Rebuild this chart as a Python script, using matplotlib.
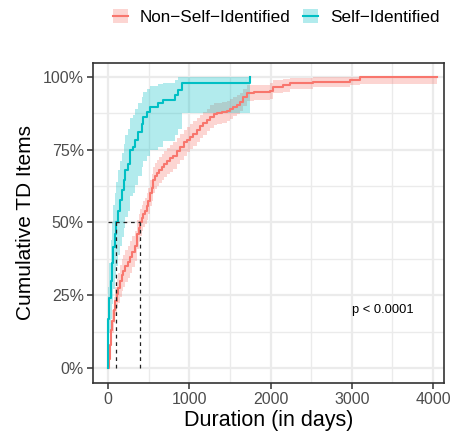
import matplotlib
matplotlib.use("Agg")
import matplotlib.pyplot as plt
from matplotlib.patches import Patch
from matplotlib.lines import Line2D
from matplotlib.ticker import FuncFormatter, MultipleLocator

plt.rcParams['font.family'] = ['Liberation Sans', 'DejaVu Sans']

# ---- data ----
series_names = ["Non\u2212Self\u2212Identified", "Self\u2212Identified"]
colors = ["#F8766D", "#00BFC4"]

t_nsi = [0, 12, 20, 33, 50, 70, 86, 110, 127, 150, 168, 190, 209, 240, 270, 300, 332, 353, 375, 394,
         415, 435, 455, 476, 497, 517, 538, 558, 580, 599, 630, 660, 690, 722, 760, 804, 845, 886,
         930, 968, 1009, 1050, 1091, 1130, 1173, 1215, 1255, 1300, 1337, 1400, 1460, 1500, 1542,
         1585, 1624, 1665, 1706, 1800, 1993, 2035, 2150, 2240, 2527, 2978, 3101, 4045]
v_nsi = [0.000, 0.030, 0.080, 0.130, 0.160, 0.200, 0.230, 0.255, 0.275, 0.300, 0.320, 0.335, 0.350,
         0.365, 0.380, 0.400, 0.420, 0.460, 0.480, 0.500, 0.515, 0.530, 0.540, 0.555, 0.575, 0.600,
         0.620, 0.645, 0.660, 0.670, 0.680, 0.690, 0.700, 0.710, 0.720, 0.730, 0.745, 0.760, 0.775,
         0.785, 0.795, 0.805, 0.818, 0.830, 0.841, 0.852, 0.864, 0.872, 0.876, 0.878, 0.882, 0.890,
         0.898, 0.905, 0.915, 0.930, 0.944, 0.948, 0.952, 0.967, 0.972, 0.978, 0.984, 0.990, 1.000, 1.000]
lo_nsi = [0.000, 0.010, 0.050, 0.095, 0.120, 0.155, 0.180, 0.205, 0.222, 0.245, 0.265, 0.280, 0.295,
          0.310, 0.325, 0.347, 0.368, 0.410, 0.432, 0.455, 0.470, 0.485, 0.495, 0.510, 0.530, 0.555,
          0.575, 0.600, 0.615, 0.625, 0.635, 0.645, 0.655, 0.665, 0.675, 0.685, 0.700, 0.715, 0.730,
          0.742, 0.752, 0.762, 0.776, 0.790, 0.801, 0.813, 0.826, 0.835, 0.840, 0.842, 0.847, 0.856,
          0.865, 0.873, 0.884, 0.901, 0.917, 0.922, 0.926, 0.944, 0.950, 0.957, 0.965, 0.972, 0.976, 0.976]
hi_nsi = [0.000, 0.050, 0.110, 0.165, 0.200, 0.245, 0.280, 0.305, 0.328, 0.355, 0.375, 0.390, 0.405,
          0.420, 0.435, 0.453, 0.472, 0.510, 0.528, 0.545, 0.560, 0.575, 0.585, 0.600, 0.620, 0.645,
          0.665, 0.690, 0.705, 0.715, 0.725, 0.735, 0.745, 0.755, 0.765, 0.775, 0.790, 0.805, 0.818,
          0.828, 0.838, 0.848, 0.860, 0.870, 0.881, 0.891, 0.902, 0.909, 0.912, 0.914, 0.917, 0.924,
          0.931, 0.937, 0.946, 0.959, 0.971, 0.974, 0.978, 0.990, 0.994, 0.998, 1.000, 1.000, 1.000, 1.000]

t_si = [0, 1, 3, 12, 33, 50, 65, 80, 95, 120, 148, 176, 197, 209, 250, 271, 310, 332, 373, 414, 435,
        476, 517, 620, 681, 825, 866, 907, 1748]
v_si = [0.00, 0.10, 0.17, 0.24, 0.30, 0.36, 0.417, 0.46, 0.50, 0.54, 0.577, 0.61, 0.646, 0.68, 0.70,
        0.749, 0.76, 0.784, 0.81, 0.84, 0.864, 0.88, 0.898, 0.91, 0.921, 0.938, 0.955, 0.978, 1.00]
lo_si = [0.00, 0.02, 0.06, 0.12, 0.17, 0.22, 0.27, 0.31, 0.35, 0.39, 0.42, 0.45, 0.48, 0.52, 0.54,
         0.59, 0.60, 0.63, 0.66, 0.69, 0.71, 0.73, 0.75, 0.76, 0.78, 0.80, 0.82, 0.875, 0.875]
hi_si = [0.00, 0.18, 0.28, 0.36, 0.44, 0.50, 0.56, 0.60, 0.64, 0.68, 0.71, 0.74, 0.77, 0.80, 0.82,
         0.86, 0.87, 0.89, 0.91, 0.93, 0.95, 0.96, 0.97, 0.975, 0.98, 0.99, 1.00, 1.00, 1.00]

median_days = [98, 394]
median_level = 0.5
pval_text = "p < 0.0001"
pval_pos = (3000, 0.2)

x_ticks = [0, 1000, 2000, 3000, 4000]
y_ticks = [0, 0.25, 0.5, 0.75, 1.0]

# ---- figure ----
fig = plt.figure(figsize=(4.51, 4.37), dpi=100)
ax = fig.add_axes([93/451, 54/437, 351/451, 320/437])

grid_c = "#EBEBEB"
ax.set_axisbelow(True)
ax.xaxis.set_minor_locator(MultipleLocator(500))
ax.yaxis.set_minor_locator(MultipleLocator(0.125))
ax.grid(which="major", color=grid_c, lw=1.6)
ax.grid(which="minor", color=grid_c, lw=1.0)

for t, v, lo, hi, c in [(t_nsi, v_nsi, lo_nsi, hi_nsi, colors[0]),
                        (t_si, v_si, lo_si, hi_si, colors[1])]:
    ax.fill_between(t, lo, hi, step="post", color=c, alpha=0.3, lw=0)
    ax.step(t, v, where="post", color=c, lw=1.5)

# median lines
ax.plot([0, max(median_days)], [median_level, median_level], color="#222222", lw=0.9, ls=(0, (3, 3)))
for md in median_days:
    ax.plot([md, md], [0, median_level], color="#222222", lw=0.9, ls=(0, (3, 3)))

ax.text(pval_pos[0], pval_pos[1], pval_text, fontsize=9.3, ha="left", va="center", color="black")

ax.set_xlim(-185, 4135)
ax.set_ylim(-0.0515, 1.048)
ax.set_xticks(x_ticks)
ax.set_yticks(y_ticks)
ax.yaxis.set_major_formatter(FuncFormatter(lambda v, p: f"{int(round(v*100))}%"))
ax.tick_params(which="major", length=4, width=1.1, color="#333333", labelsize=11.5,
               labelcolor="#4D4D4D", pad=2.5)
ax.tick_params(which="minor", length=0)
for s in ax.spines.values():
    s.set_color("#333333")
    s.set_linewidth(1.2)

ax.set_xlabel("Duration (in days)", fontsize=15.5, labelpad=2)
ax.set_ylabel("Cumulative TD Items", fontsize=15, labelpad=6)

handles = [(Patch(facecolor=c, alpha=0.3, lw=0), Line2D([], [], color=c, lw=1.5)) for c in colors]
fig.legend(handles, series_names, loc="center", bbox_to_anchor=(276/451, 1 - 17/437),
           ncol=2, frameon=False, fontsize=12.3, handlelength=0.9, handleheight=0.9,
           columnspacing=0.7, handletextpad=0.7, borderaxespad=0)

fig.savefig("out.png", dpi=100)
